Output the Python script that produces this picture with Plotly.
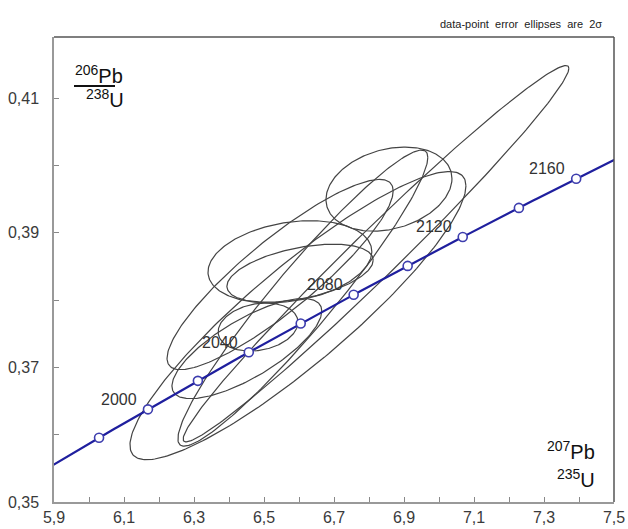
import numpy as np
import plotly.graph_objects as go

# ---- data ----
# U decay constants (per year)
LAMBDA_238 = 1.55125e-10
LAMBDA_235 = 9.8485e-10

# concordia age markers (Ma) and labelled ages
marker_ages = [1980, 2000, 2020, 2040, 2060, 2080, 2100, 2120, 2140, 2160]
label_ages = [2000, 2040, 2080, 2120, 2160]

# error ellipses (2 sigma): 207Pb/235U, 2s, 206Pb/238U, 2s, rho
ell_x = [6.857, 6.820, 6.597, 6.611, 6.546, 6.574, 6.603, 6.483, 6.451]
ell_sx = [0.180, 0.551, 0.480, 0.357, 0.323, 0.234, 0.209, 0.114, 0.214]
ell_y = [0.3965, 0.3869, 0.3777, 0.3803, 0.3838, 0.3857, 0.3840, 0.3760, 0.3728]
ell_sy = [0.00625, 0.02796, 0.02141, 0.02200, 0.01413, 0.00610, 0.00431, 0.00357, 0.00744]
ell_rho = [0.25, 0.985, 0.90, 0.95, 0.88, 0.25, 0.45, 0.20, 0.75]

x_ticks = [5.9, 6.1, 6.3, 6.5, 6.7, 6.9, 7.1, 7.3, 7.5]
x_ticklabels = ["5,9", "6,1", "6,3", "6,5", "6,7", "6,9", "7,1", "7,3", "7,5"]
y_ticks = [0.35, 0.37, 0.39, 0.41]
y_ticklabels = ["0,35", "0,37", "0,39", "0,41"]

# ---- layout geometry (pixels) ----
W, H = 628, 529
L, R, T, B = 54, 14, 37, 27
PW, PH = W - L - R, H - T - B


def px(xp):
    return (xp - L) / PW


def py(yp):
    return (H - B - yp) / PH


def conc(t_ma):
    t = np.asarray(t_ma, dtype=float) * 1e6
    return np.exp(LAMBDA_235 * t) - 1, np.exp(LAMBDA_238 * t) - 1


fig = go.Figure()

# ellipses
th = np.linspace(0, 2 * np.pi, 241)
for x0, sx, y0, sy, r in zip(ell_x, ell_sx, ell_y, ell_sy, ell_rho):
    ex = x0 + sx * np.cos(th)
    ey = y0 + sy * (r * np.cos(th) + np.sqrt(1 - r * r) * np.sin(th))
    fig.add_trace(go.Scatter(x=ex, y=ey, mode="lines",
                             line=dict(color="#444444", width=1.2),
                             hoverinfo="skip", showlegend=False))

# concordia curve
tc = np.linspace(1950, 2185, 400)
cx, cy = conc(tc)
fig.add_trace(go.Scatter(x=cx, y=cy, mode="lines",
                         line=dict(color="#1f1f9e", width=2.2),
                         hoverinfo="skip", showlegend=False))
mx, my = conc(marker_ages)
fig.add_trace(go.Scatter(x=mx, y=my, mode="markers",
                         marker=dict(size=9, color="white",
                                     line=dict(color="#3d3dae", width=1.6)),
                         hoverinfo="skip", showlegend=False))

annotations = []
lx, ly = conc(label_ages)
for a, xx, yy in zip(label_ages, lx, ly):
    annotations.append(dict(x=xx, y=yy, xref="x", yref="y", text=str(a),
                            showarrow=False, xanchor="right", yanchor="middle",
                            xshift=-9, yshift=10,
                            font=dict(size=16, color="#333333",
                                      family="Liberation Sans, Arial")))

# axis ratio labels
annotations += [
    dict(x=px(73), y=py(74), xref="paper", yref="paper",
         text="<sup>206</sup>Pb", showarrow=False, xanchor="left",
         yanchor="middle", font=dict(size=20, color="#111111",
                                     family="Liberation Sans, Arial")),
    dict(x=px(84), y=py(99), xref="paper", yref="paper",
         text="<sup>238</sup>U", showarrow=False, xanchor="left",
         yanchor="middle", font=dict(size=20, color="#111111",
                                     family="Liberation Sans, Arial")),
    dict(x=px(545), y=py(450), xref="paper", yref="paper",
         text="<sup>207</sup>Pb", showarrow=False, xanchor="left",
         yanchor="middle", font=dict(size=20, color="#111111",
                                     family="Liberation Sans, Arial")),
    dict(x=px(555), y=py(478), xref="paper", yref="paper",
         text="<sup>235</sup>U", showarrow=False, xanchor="left",
         yanchor="middle", font=dict(size=20, color="#111111",
                                     family="Liberation Sans, Arial")),
    dict(x=px(604), y=py(24), xref="paper", yref="paper",
         text="data-point  error  ellipses  are  2σ", showarrow=False,
         xanchor="right", yanchor="middle",
         font=dict(size=11, color="#222222", family="Liberation Sans, Arial")),
]

shapes = [
    # fraction bar
    dict(type="line", xref="paper", yref="paper", x0=px(74), x1=px(115),
         y0=py(86), y1=py(86), line=dict(color="#111111", width=2)),
    # top and right frame
    dict(type="line", xref="paper", yref="paper", x0=0, x1=1, y0=1, y1=1,
         line=dict(color="#555555", width=1.5)),
    dict(type="line", xref="paper", yref="paper", x0=1, x1=1, y0=0, y1=1,
         line=dict(color="#555555", width=1.5)),
]

axis_font = dict(size=16, color="#3a3a3a", family="Liberation Sans, Arial")
fig.update_layout(
    width=W, height=H,
    margin=dict(l=L, r=R, t=T, b=B, pad=0, autoexpand=False),
    paper_bgcolor="white", plot_bgcolor="white",
    annotations=annotations, shapes=shapes,
    xaxis=dict(range=[5.9, 7.5], tickvals=x_ticks, ticktext=x_ticklabels,
               ticks="inside", ticklen=5, tickcolor="#888888",
               showgrid=False, zeroline=False, showline=True,
               linecolor="#999999", linewidth=1.5, tickfont=axis_font,
               automargin=False,
               minor=dict(dtick=0.1, ticks="inside", ticklen=5,
                          tickcolor="#888888", showgrid=False)),
    yaxis=dict(range=[0.35, 0.4191], tickvals=y_ticks, ticktext=y_ticklabels,
               ticks="inside", ticklen=5, tickcolor="#888888",
               showgrid=False, zeroline=False, showline=True,
               linecolor="#999999", linewidth=1.5, tickfont=axis_font,
               ticklabelstandoff=10, automargin=False,
               minor=dict(dtick=0.01, ticks="inside", ticklen=5,
                          tickcolor="#888888", showgrid=False)),
)

fig.write_html(
    "out.html",
    config={"displayModeBar": False},
    post_script="document.body.style.margin='0';"
                "document.body.style.overflow='hidden';",
)
